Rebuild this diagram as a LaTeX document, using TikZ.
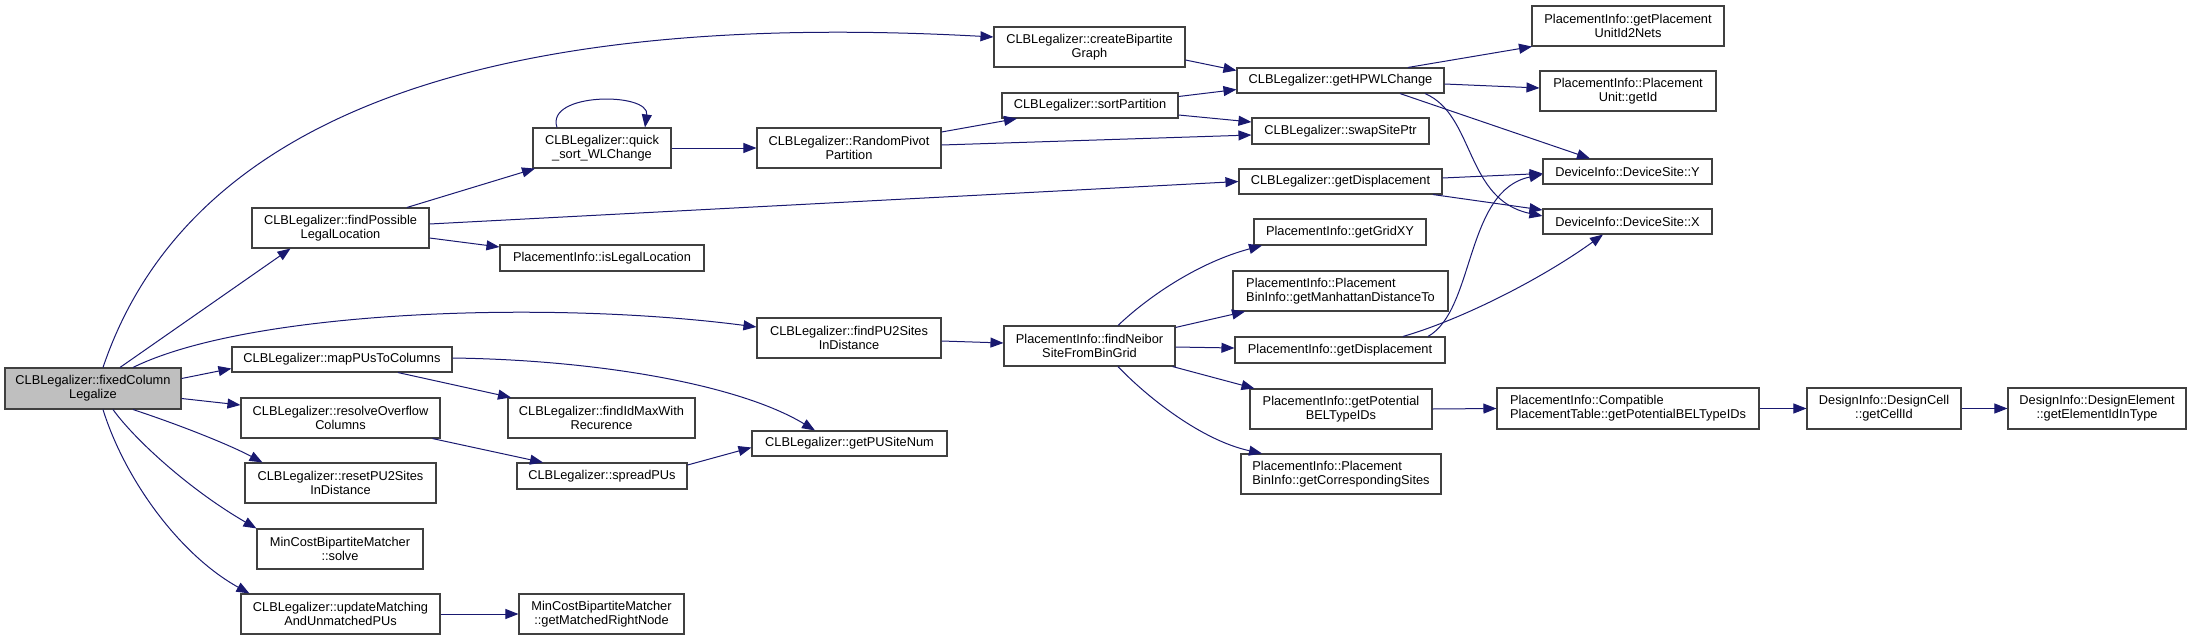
\documentclass[tikz,border=0pt]{standalone}
\usepackage{fontspec}
\setmainfont{Liberation Sans}
\usetikzlibrary{arrows.meta,calc}
\definecolor{edgeblue}{HTML}{191970}
\definecolor{boxline}{HTML}{404040}
\definecolor{hilite}{HTML}{BFBFBF}
\tikzset{
 fn/.style={draw=boxline, line width=1.1pt, fill=white, inner sep=0pt, align=center, font=\fontsize{12.8}{14.2}\selectfont},
 fnl/.style={fn, align=left},
 edge/.style={draw=edgeblue, line width=1pt, -{Triangle[length=13pt,width=10pt]}},
}
\begin{document}
\begin{tikzpicture}[x=1pt,y=-1pt]
\useasboundingbox (0,0) rectangle (2191,640);
% nodes
\node[fn, fill=hilite, minimum width=176pt, minimum height=41pt] (A) at (93,388.5) {CLBLegalizer::fixedColumn\\Legalize};
\node[fn, minimum width=177pt, minimum height=40pt] (B) at (340.5,228) {CLBLegalizer::findPossible\\LegalLocation};
\node[fn, minimum width=138pt, minimum height=40pt] (C) at (602,148) {CLBLegalizer::quick\\\_sort\_WLChange};
\node[fn, minimum width=204pt, minimum height=26pt] (D) at (602,258) {PlacementInfo::isLegalLocation};
\node[fn, minimum width=184pt, minimum height=40pt] (E) at (849,148) {CLBLegalizer::RandomPivot\\Partition};
\node[fn, minimum width=191pt, minimum height=40pt] (F) at (1089.5,47) {CLBLegalizer::createBipartite\\Graph};
\node[fn, minimum width=176pt, minimum height=25pt] (G) at (1090,105.5) {CLBLegalizer::sortPartition};
\node[fn, minimum width=207pt, minimum height=25pt] (H) at (1340.5,80.5) {CLBLegalizer::getHPWLChange};
\node[fn, minimum width=177pt, minimum height=26pt] (I) at (1340.5,131) {CLBLegalizer::swapSitePtr};
\node[fn, minimum width=203pt, minimum height=25pt] (J) at (1340.5,181.5) {CLBLegalizer::getDisplacement};
\node[fn, minimum width=192pt, minimum height=40pt] (K) at (1628,26) {PlacementInfo::getPlacement\\UnitId2Nets};
\node[fn, minimum width=176pt, minimum height=40pt] (L) at (1628,91) {PlacementInfo::Placement\\Unit::getId};
\node[fn, minimum width=169pt, minimum height=25pt] (M) at (1627.5,171.5) {DeviceInfo::DeviceSite::Y};
\node[fn, minimum width=169pt, minimum height=25pt] (N) at (1627.5,221.5) {DeviceInfo::DeviceSite::X};
\node[fn, minimum width=172pt, minimum height=26pt] (O) at (1340,232) {PlacementInfo::getGridXY};
\node[fnl, minimum width=215pt, minimum height=40pt] (P) at (1340.5,291) {PlacementInfo::Placement\\BinInfo::getManhattanDistanceTo};
\node[fn, minimum width=210pt, minimum height=26pt] (Q) at (1340,350) {PlacementInfo::getDisplacement};
\node[fn, minimum width=182pt, minimum height=40pt] (R) at (1341,409) {PlacementInfo::getPotential\\BELTypeIDs};
\node[fnl, minimum width=200pt, minimum height=40pt] (S) at (1341,474) {PlacementInfo::Placement\\BinInfo::getCorrespondingSites};
\node[fnl, minimum width=262pt, minimum height=41pt] (T) at (1628,408.5) {PlacementInfo::Compatible\\PlacementTable::getPotentialBELTypeIDs};
\node[fn, minimum width=154pt, minimum height=41pt] (U) at (1884,408.5) {DesignInfo::DesignCell\\::getCellId};
\node[fn, minimum width=178pt, minimum height=41pt] (V) at (2097,408.5) {DesignInfo::DesignElement\\::getElementIdInType};
\node[fn, minimum width=184pt, minimum height=40pt] (W) at (849,338) {CLBLegalizer::findPU2Sites\\InDistance};
\node[fn, minimum width=171pt, minimum height=40pt] (X) at (1089.5,346) {PlacementInfo::findNeibor\\SiteFromBinGrid};
\node[fn, minimum width=195pt, minimum height=25pt] (Y) at (849.5,443.5) {CLBLegalizer::getPUSiteNum};
\node[fn, minimum width=220pt, minimum height=25pt] (Z) at (342,359.5) {CLBLegalizer::mapPUsToColumns};
\node[fn, minimum width=199pt, minimum height=40pt] (AA) at (340.5,418) {CLBLegalizer::resolveOverflow\\Columns};
\node[fn, minimum width=187pt, minimum height=40pt] (AB) at (601.5,418) {CLBLegalizer::findIdMaxWith\\Recurence};
\node[fn, minimum width=191pt, minimum height=40pt] (AC) at (340.5,483) {CLBLegalizer::resetPU2Sites\\InDistance};
\node[fn, minimum width=170pt, minimum height=26pt] (AD) at (602,476) {CLBLegalizer::spreadPUs};
\node[fn, minimum width=166pt, minimum height=40pt] (AE) at (340,549) {MinCostBipartiteMatcher\\::solve};
\node[fn, minimum width=199pt, minimum height=40pt] (AF) at (340.5,614) {CLBLegalizer::updateMatching\\AndUnmatchedPUs};
\node[fn, minimum width=165pt, minimum height=40pt] (AG) at (601.5,614) {MinCostBipartiteMatcher\\::getMatchedRightNode};
% edges from fixedColumnLegalize
\draw[edge] ([xshift=10pt]A.north) .. controls (190,110) and (500,10) .. ([yshift=10pt]F.west);
\draw[edge] ([xshift=27pt]A.north) -- ([xshift=-50pt]B.south);
\draw[edge] ([xshift=40pt]A.north) .. controls (250,310) and (550,300) .. ([yshift=11pt]W.west);
\draw[edge] ([yshift=10pt]A.east) -- ([yshift=-9pt]Z.west);
\draw[edge] ([yshift=-10pt]A.east) -- ([yshift=13pt]AA.west);
\draw[edge] ([xshift=40pt]A.south) .. controls (180,425) and (230,445) .. ([xshift=-78pt]AC.north);
\draw[edge] ([xshift=20pt]A.south) .. controls (135,440) and (190,490) .. (AE.north west);
\draw[edge] ([xshift=10pt]A.south) .. controls (125,480) and (180,555) .. ([xshift=9pt]AF.north west);
% findPossibleLegalLocation
\draw[edge] ([xshift=66.5pt]B.north) -- ([xshift=-67pt]C.south);
\draw[edge] ([yshift=-10pt]B.east) -- ([yshift=11pt]D.west);
\draw[edge] ([yshift=4pt]B.east) -- (J.west);
% quick sort
\draw[edge] ([xshift=-45pt]C.north) .. controls (545,92) and (650,92) .. ([xshift=43pt]C.north);
\draw[edge] (C.east) -- (E.west);
% RandomPivotPartition
\draw[edge] ([yshift=16pt]E.east) -- ([xshift=-73pt]G.south);
\draw[edge] ([yshift=3pt]E.east) -- ([yshift=-4pt]I.west);
% createBipartiteGraph, sortPartition
\draw[edge] ([yshift=-13pt]F.east) -- ([yshift=10pt]H.west);
\draw[edge] ([yshift=9pt]G.east) -- ([yshift=-9pt]H.west);
\draw[edge] ([yshift=-9.5pt]G.east) -- ([yshift=9pt]I.west);
% getHPWLChange
\draw[edge] ([xshift=67.5pt]H.north) -- ([xshift=-96pt]K.south);
\draw[edge] ([yshift=-3.5pt]H.east) -- ([yshift=3pt]L.west);
\draw[edge] ([xshift=59.5pt]H.south) -- ([xshift=-37.5pt]M.north);
\draw[edge] ([xshift=84.5pt]H.south) .. controls (1475,115) and (1465,200) .. ([yshift=5.5pt]N.west);
% CLB getDisplacement
\draw[edge] ([yshift=3.5pt]J.east) -- ([yshift=-2pt]M.west);
\draw[edge] ([xshift=92.5pt]J.south) -- ([yshift=11.5pt]N.west);
% findPU2Sites
\draw[edge] ([yshift=-3pt]W.east) -- ([yshift=3pt]X.west);
% findNeiborSiteFromBinGrid
\draw[edge] ([xshift=28.5pt]X.north) .. controls (1150,295) and (1200,262) .. ([xshift=-78pt]O.south);
\draw[edge] ([yshift=-2pt]X.north east) -- ([xshift=-95.5pt]P.south);
\draw[edge] ([yshift=-1pt]X.east) -- ([yshift=2pt]Q.west);
\draw[edge] ([xshift=-3pt]X.south east) -- ([xshift=5pt]R.north west);
\draw[edge] ([xshift=28.5pt]X.south) .. controls (1145,395) and (1200,440) .. ([xshift=-79pt]S.north);
% PlacementInfo getDisplacement
\draw[edge] ([xshift=88pt]Q.north) .. controls (1475,310) and (1465,190) .. ([yshift=-3pt]M.west);
\draw[edge] ([xshift=63pt]Q.north) .. controls (1460,320) and (1540,280) .. ([xshift=-24.5pt]N.south);
% chain
\draw[edge] (R.east) -- (T.west);
\draw[edge] (T.east) -- (U.west);
\draw[edge] (U.east) -- (V.west);
% mapPUsToColumns
\draw[edge] ([xshift=56pt]Z.south) -- ([xshift=-90.5pt]AB.north);
\draw[edge] ([yshift=1.5pt]Z.east) .. controls (600,360) and (740,385) .. ([xshift=-34.5pt]Y.north);
% resolveOverflow, spreadPUs
\draw[edge] ([xshift=92pt]AA.south) -- ([xshift=-59pt]AD.north);
\draw[edge] ([yshift=11pt]AD.east) -- ([yshift=-4pt]Y.west);
% updateMatching
\draw[edge] (AF.east) -- (AG.west);
\end{tikzpicture}
\end{document}
